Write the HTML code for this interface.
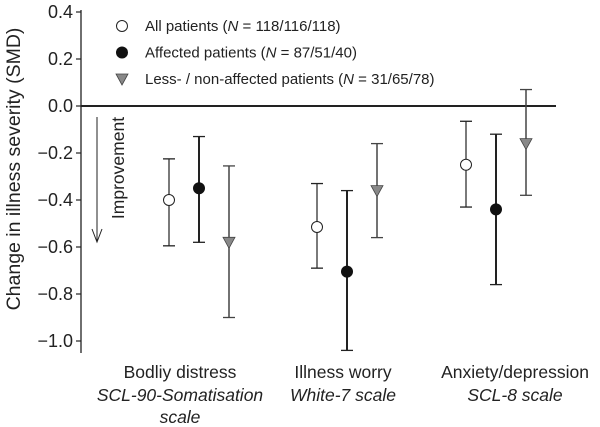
<!DOCTYPE html>
<html><head><meta charset="utf-8"><style>
body{margin:0;background:#fff}
svg{display:block;font-family:"Liberation Sans",sans-serif}
</style></head><body>
<svg id="c" width="600" height="427" viewBox="0 0 600 427"></svg>
<script>
const categories=["Bodliy distress","Illness worry","Anxiety/depression"];
const subtitles=[["SCL-90-Somatisation","scale"],["White-7 scale"],["SCL-8 scale"]];
const allMean=[-0.40,-0.515,-0.25], allLo=[-0.595,-0.69,-0.43], allHi=[-0.225,-0.33,-0.065];
const affMean=[-0.35,-0.705,-0.44], affLo=[-0.58,-1.04,-0.76], affHi=[-0.13,-0.36,-0.12];
const lessMean=[-0.58,-0.36,-0.16], lessLo=[-0.90,-0.56,-0.38], lessHi=[-0.255,-0.16,0.07];
const yTicks=[0.4,0.2,0.0,-0.2,-0.4,-0.6,-0.8,-1.0];
const tickLabels=["0.4","0.2","0.0","\u22120.2","\u22120.4","\u22120.6","\u22120.8","\u22121.0"];
const NS="http://www.w3.org/2000/svg";
const svg=document.getElementById('c');
const y=v=>106-v*235;
const groupX=i=>[169,317,466][i];
function el(t,a,p){const e=document.createElementNS(NS,t);for(const k in a)e.setAttribute(k,a[k]);(p||svg).appendChild(e);return e;}
let ax=el('line',{x1:81,y1:10,x2:81,y2:353,stroke:'#222','stroke-width':1.3});


let z=el('line',{x1:81,y1:y(0),x2:556,y2:y(0),stroke:'#222','stroke-width':2});


yTicks.forEach((v,i)=>{
 let t=el('line',{x1:76,y1:y(v),x2:81,y2:y(v),stroke:'#222','stroke-width':1.2});
 
 
 let l=el('text',{x:73,y:y(v)+6,'text-anchor':'end','font-size':18,fill:'#222'});
 l.textContent=tickLabels[i];
 
 
});
let yt=el('text',{transform:'translate(20,169) rotate(-90)','text-anchor':'middle','font-size':19.5,fill:'#222'});
yt.textContent='Change in illness severity (SMD)';


let ar=el('g',{});


el('line',{x1:97,y1:117,x2:97,y2:241,stroke:'#222','stroke-width':1},ar);
el('polyline',{points:'92,229 97,242 102,229',fill:'none',stroke:'#222','stroke-width':1},ar);
let im=el('text',{transform:'translate(124,168) rotate(-90)','text-anchor':'middle','font-size':17.5,fill:'#222'});
im.textContent='Improvement';


function marker(type,cx,cy,p){
 if(type==='open')return el('circle',{cx:cx,cy:cy,r:5.5,fill:'#fff',stroke:'#222','stroke-width':1},p);
 if(type==='filled')return el('circle',{cx:cx,cy:cy,r:6,fill:'#111'},p);
 return el('polygon',{points:`${cx-6},${cy-5} ${cx+6},${cy-5} ${cx},${cy+6}`,fill:'#888',stroke:'#444','stroke-width':0.8},p);
}
const series=[['open',allMean,allLo,allHi,0,1.2,'#222'],['filled',affMean,affLo,affHi,30,2,'#222'],['tri',lessMean,lessLo,lessHi,60,1.5,'#444']];
series.forEach(s=>{
 categories.forEach((c,i)=>{
  const cx=groupX(i)+s[4];
  let g=el('g',{});
  
  
  el('line',{x1:cx,y1:y(s[3][i]),x2:cx,y2:y(s[2][i]),stroke:s[6],'stroke-width':s[5]},g);
  el('line',{x1:cx-6,y1:y(s[3][i]),x2:cx+6,y2:y(s[3][i]),stroke:s[6],'stroke-width':1.3},g);
  el('line',{x1:cx-6,y1:y(s[2][i]),x2:cx+6,y2:y(s[2][i]),stroke:s[6],'stroke-width':1.3},g);
  marker(s[0],cx,y(s[1][i]),g);
 });
});
categories.forEach((c,i)=>{
 const cx=[180,343,515][i];
 let t=el('text',{x:cx,y:378,'text-anchor':'middle','font-size':17.5,fill:'#222'});
 t.textContent=c;
 
 
 subtitles[i].forEach((s,j)=>{
  let u=el('text',{x:cx,y:401+j*22,'text-anchor':'middle','font-size':17.5,'font-style':'italic',fill:'#222'});
  u.textContent=s;
  
  
 });
});
const legendItems=[['open','All patients (','118/116/118)'],['filled','Affected patients (','87/51/40)'],['tri','Less- / non-affected patients (','31/65/78)']];
legendItems.forEach((it,i)=>{
 const cy=26+i*26.5;
 let g=el('g',{});
 
 
 marker(it[0],122,cy,g);
 let t=el('text',{x:145,y:cy+5,'font-size':15,fill:'#222'},g);
 t.innerHTML=it[1]+'<tspan font-style="italic">N</tspan> = '+it[2];
});
</script>
</body></html>
